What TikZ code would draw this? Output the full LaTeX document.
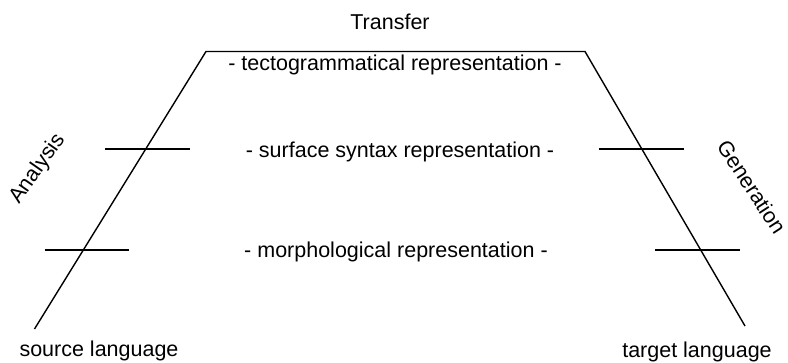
\documentclass[tikz,border=0pt]{standalone}
\usepackage{fontspec}
\setmainfont{Liberation Sans}
\begin{document}
\begin{tikzpicture}[x=1pt,y=-1pt,
  lbl/.style={inner sep=0pt,font=\fontsize{21.5}{25}\selectfont,anchor=base},
  rlbl/.style={inner sep=0pt,font=\fontsize{21.5}{25}\selectfont,anchor=center},
  ln/.style={line width=1.4pt,line cap=butt}]
\useasboundingbox (0,0) rectangle (788,363);
\coordinate (tl) at (206,51.5);
\coordinate (tr) at (585,51.5);
\coordinate (bl) at (34.5,329);
\coordinate (br) at (745,326);
\draw[ln] (bl) -- (tl) -- (tr) -- (br);
\coordinate (ls1) at (105,149);
\coordinate (ls2) at (190,149);
\coordinate (lm1) at (44.5,250);
\coordinate (lm2) at (129,250);
\coordinate (rs1) at (599,149);
\coordinate (rs2) at (683.5,149);
\coordinate (rm1) at (655,250);
\coordinate (rm2) at (740,250);
\draw[ln] (ls1) -- (ls2);
\draw[ln] (lm1) -- (lm2);
\draw[ln] (rs1) -- (rs2);
\draw[ln] (rm1) -- (rm2);
\node[lbl] (transfer) at (390,30) {Transfer};
\node[lbl] (tecto) at (395,71) {- tectogrammatical representation -};
\node[lbl] (surf) at (400,158) {- surface syntax representation -};
\node[lbl] (morph) at (396,258) {- morphological representation -};
\node[lbl] (src) at (99,356.5) {source language};
\node[lbl] (tgt) at (697,358) {target language};
\node[rlbl,rotate=55] (analysis) at (38,169) {Analysis};
\node[rlbl,rotate=-57] (generation) at (752,187) {Generation};
\end{tikzpicture}
\end{document}
